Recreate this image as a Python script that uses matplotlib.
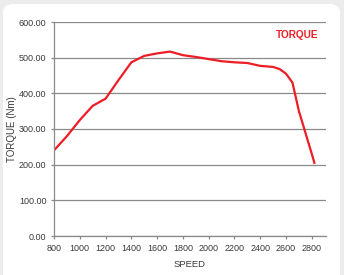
import matplotlib.pyplot as plt
from matplotlib.patches import FancyBboxPatch

# Torque curve
speed = [800, 900, 1000, 1100, 1200, 1300, 1400, 1500, 1600, 1700, 1800, 1900,
         2000, 2100, 2200, 2300, 2400, 2500, 2550, 2600, 2650, 2700, 2800, 2820]
torque = [240, 280, 325, 365, 385, 437, 487, 505, 512, 517, 507, 502,
          496, 490, 487, 485, 477, 474, 468, 455, 430, 350, 230, 205]
xticks = list(range(800, 2801, 200))
yticks = [0, 100, 200, 300, 400, 500, 600]

plt.rcParams['font.family'] = ['Liberation Sans', 'DejaVu Sans']

fig = plt.figure(figsize=(3.44, 2.75), dpi=100)
fig.patch.set_facecolor('#ececec')
panel = FancyBboxPatch((3 / 344, -0.1), 337 / 344, 1.1 - 4 / 275,
                       boxstyle='round,pad=0,rounding_size=0.03',
                       transform=fig.transFigure, facecolor='white',
                       edgecolor='none', zorder=-5)
fig.patches.append(panel)

ax = fig.add_axes([54 / 344, 1 - 236 / 275, (326 - 54) / 344, (236 - 22) / 275])
ax.set_facecolor('none')
ax.plot(speed, torque, color='#ee1c25', linewidth=1.6, solid_joinstyle='round')

ax.set_xlim(800, 2910)
ax.set_ylim(0, 600)
ax.set_xticks(xticks)
ax.set_yticks(yticks)
ax.set_yticklabels([f'{v:.2f}' for v in yticks])
ax.grid(axis='y', color='#8a8a8a', linewidth=0.9)
for s in ['top', 'right']:
    ax.spines[s].set_visible(False)
for s in ['left', 'bottom']:
    ax.spines[s].set_color('#8a8a8a')
    ax.spines[s].set_linewidth(0.9)
ax.tick_params(axis='both', labelsize=6.5, colors='#8a8a8a', labelcolor='#3a3a3a',
               length=2.5, width=0.9, pad=3)

ax.set_xlabel('SPEED', fontsize=6.8, color='#3a3a3a')
ax.set_ylabel('TORQUE (Nm)', fontsize=7, color='#3a3a3a')
ax.yaxis.set_label_coords(-37 / 272, 0.5)
ax.xaxis.set_label_coords(0.5, -24 / 214)
ax.text(264 / 272, 201 / 214, 'TORQUE', transform=ax.transAxes, color='#ee1c25',
        fontsize=7.2, fontweight='bold', ha='right', va='center')

fig.savefig('out.png', dpi=100, facecolor=fig.get_facecolor())
